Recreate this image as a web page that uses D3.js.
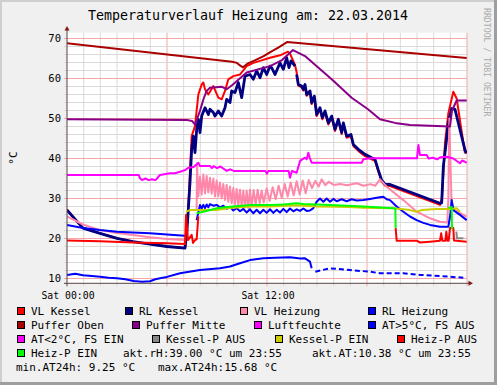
<!DOCTYPE html>
<html>
<head>
<meta charset="utf-8">
<script src="https://cdn.jsdelivr.net/npm/d3@7"></script>
<style>
  html, body { margin: 0; padding: 0; background: #fff; }
  svg { display: block; }
  text { font-family: "DejaVu Sans Mono", monospace; }
</style>
</head>
<body>
<div id="chart"></div>
<script>
// rrdtool-style day graph, values as [hour, °C]; null = gap

const vlKessel = [[0,27.3],[0.96,22.6],[1.98,21.3],[3.0,20.05],[3.96,19.2],[4.98,18.6],[6.0,18.0],[7.08,17.6],
  [7.14,19.5],[7.3,30],[7.48,45.6],[7.68,48.1],[7.88,56],[8.08,58.5],[8.18,59],[8.28,57.3],[8.48,56],[8.78,58.1],
  [9.08,55.2],[9.28,54.8],[9.48,56.9],[9.68,59.8],[9.98,60.6],[10.38,61.0],[10.78,63.1],[11.18,63.9],[11.58,64.4],
  [12.18,65.2],[12.78,65.8],[13.26,66.7],[13.38,66.2],[13.68,63.4],[13.78,61.5],[13.88,58.2],[14.08,57.8],[14.18,57.0],
  [14.28,58.0],[14.38,55.7],[14.58,56.5],[14.68,53.6],[14.84,55.2],[14.98,50.6],[15.18,52.3],[15.32,49.8],[15.48,51.5],
  [15.68,48.5],[15.88,50.2],[16.08,46.9],[16.28,49.4],[16.48,46.1],[16.58,48.5],[16.78,45.2],[17.04,45.6],[17.18,43.1],
  [17.48,41.9],[17.88,40.6],[18.28,39.8],[18.48,39.4],[18.68,36.7],[18.88,34.2],[19.08,33.2],[19.38,33.1],[22.38,28.4],
  [22.5,30],[22.68,44],[22.88,51.3],[23.18,56.7],[23.38,55],[23.88,41.3]];

const rlKessel = [[0,27.1],[0.96,22.6],[1.98,21.3],[3.0,20.05],[3.96,19.2],[4.98,18.6],[6.0,18.0],[7.08,17.6],
  [7.2,22],[7.38,34],[7.48,42.3],[7.58,45.6],[7.68,41.5],[7.78,47.3],[7.88,49.8],[7.98,46.5],[8.08,50.6],[8.28,52.7],
  [8.48,51.0],[8.58,52.3],[8.78,51.5],[8.88,50.6],[9.08,51.9],[9.28,50.6],[9.48,52.7],[9.58,54.8],[9.78,54.0],[9.88,56.9],
  [10.08,56.5],[10.28,59.0],[10.48,55.2],[10.68,60.6],[10.98,61.0],[11.18,59.8],[11.38,61.9],[11.58,60.2],[11.78,62.7],
  [11.98,61.0],[12.18,63.1],[12.28,62.7],[12.48,61.0],[12.78,63.9],[12.98,62.3],[13.18,65.2],[13.32,62.7],[13.44,64.4],
  [13.68,63.1],[13.73,null],[13.78,61.0],[13.88,58.5],[14.08,58.1],[14.18,57.3],[14.28,58.5],[14.38,56.0],[14.58,56.9],
  [14.68,54.0],[14.84,55.6],[14.98,51.0],[15.18,52.7],[15.32,50.2],[15.48,51.9],[15.68,48.9],[15.88,50.6],[16.08,47.3],
  [16.28,49.8],[16.48,46.5],[16.58,48.9],[16.78,45.6],[17.04,46.0],[17.18,43.5],[17.48,42.3],[17.88,41.05],[18.28,40.2],
  [18.48,39.8],[18.68,37.1],[18.88,34.6],[19.08,33.6],[19.38,33.5],[22.38,28.8],[22.48,28.9],[22.58,38],[22.78,45],
  [22.88,48.8],[23.08,52.5],[23.28,52.3],[23.88,42.1],[23.98,41.3]];

const vlHeizung = [[0,25.5],[0.96,23.5],[1.98,22.1],[3.0,21.4],[3.96,20.9],[4.98,20.3],[6.0,19.9],[7.08,19.6],[7.1,null],
  [7.78,27],[7.8,38.8],[7.88,30.5],[7.98,35.5],[8.08,31],[8.18,36],[8.28,31.3],[8.38,35.6],[8.48,31.5],[8.58,35.2],
  [8.68,31.2],[8.78,35],[8.88,30.5],[8.98,34.5],[9.08,30.5],[9.18,34],[9.28,30],[9.38,33.6],[9.48,29.6],[9.58,33.4],
  [9.68,29.2],[9.78,33],[9.88,28.8],[9.98,32.6],[10.08,28.5],[10.18,32.4],[10.28,28.2],[10.38,32.2],[10.48,28],
  [10.58,32],[10.68,27.8],[10.78,32],[10.88,27.6],[10.98,32.2],[11.08,28],[11.2,32.1],[11.32,28.4],[11.44,32.2],
  [11.56,28.8],[11.68,32],[11.8,29],[11.98,32.5],[12.16,29.4],[12.34,32.8],[12.52,29.8],[12.7,33.2],[12.88,30.2],
  [13.06,33.6],[13.24,30.5],[13.42,34],[13.6,30.8],[13.78,34.3],[13.96,31],[14.14,34.5],[14.32,31.3],[14.5,34.6],
  [14.7,32.6],[14.9,34.4],[15.1,33],[15.28,34.8],[15.5,33.3],[15.7,34.2],[16.0,33.4],[16.4,33.6],[16.8,33.3],
  [17.38,33.8],[17.8,33.2],[18.2,33.6],[18.5,33.2],[18.78,34.8],[19.18,32.95],[20.18,29.6],[20.98,26.7],[21.78,25.05],
  [22.38,24.2],[22.82,24.0],[22.88,30],[22.94,50],[23.0,40],[23.08,28],[23.3,27],[23.98,25.45]];

const rlHeizung = [[0,23.4],[0.96,22.6],[1.98,22.1],[3.0,21.7],[3.96,21.5],[4.98,21.3],[6.0,21.0],[7.08,20.7],[7.1,null],
  [7.78,24.6],[7.98,28.4],[8.08,27.5],[8.18,28.4],[8.28,27.6],[8.38,28.5],[8.48,27.8],[8.58,28.6],[8.78,28.2],[8.98,28.4],
  [9.18,27.8],[9.38,28.2],[9.58,27.4],[9.78,27.9],[9.98,27.0],[10.18,27.6],[10.38,26.8],[10.58,27.4],[10.78,26.5],
  [10.98,27.3],[11.18,26.3],[11.38,27.2],[11.58,26.3],[11.78,27.2],[11.98,26.4],[12.18,27.3],[12.38,26.4],[12.58,27.2],
  [12.78,26.5],[12.98,27.4],[13.18,26.6],[13.38,27.5],[13.58,26.8],[13.78,27.3],[13.98,26.9],[14.18,27.5],[14.38,26.9],
  [14.58,27.0],[14.78,27.6],[14.98,29.2],[15.18,30.0],[15.38,29.2],[15.58,30.0],[15.78,29.2],[15.98,29.9],[16.18,29.3],
  [16.48,29.8],[16.78,29.3],[17.08,29.8],[17.38,29.5],[17.78,29.6],[18.18,29.9],[18.58,30.2],[18.98,30.45],[19.18,29.8],
  [19.38,29.6],[19.78,28],[20.18,26.7],[20.58,25.5],[20.98,24.6],[21.38,23.9],[21.78,23.4],[22.38,22.95],[22.88,22.95],
  [23.0,26],[23.08,29.6],[23.2,27],[23.58,25.9],[23.98,24.6]];

const pufferOben = [[0,68.8],[9.9,64.2],[10.2,63.9],[10.4,63.2],[10.56,62.8],[10.86,63.8],[11.3,64.6],[11.8,65.6],
  [12.2,66.6],[12.7,67.8],[13.2,69.1],[23.98,65.1]];

const pufferMitte = [[0,49.8],[7.2,49.6],[7.5,49.4],[7.68,48.5],[7.98,51.9],[8.2,55],[8.38,56.9],[8.58,57.7],[9.28,57.96],
  [9.58,57.3],[9.9,58.3],[10.78,61.5],[12.18,63.1],[12.9,64.6],[13.56,67.1],[14.28,65.6],[15.88,59.8],[17.08,55.2],
  [18.06,52.3],[18.78,49.8],[19.68,48.9],[20.58,48.4],[22.98,48.0],[23.1,52],[23.38,54.5],[23.98,54.5]];

const luftfeuchte = [[0,35.9],[4.3,35.9],[4.38,35.05],[4.5,34.6],[4.7,35.0],[4.9,34.6],[5.1,34.8],[5.3,34.6],[5.4,35.0],
  [5.58,35.9],[6.18,36.3],[6.48,36.3],[6.78,36.7],[7.08,37.1],[7.28,37.7],[7.6,37.9],[7.88,38.95],[7.98,38.1],[8.58,38.1],
  [8.7,37.6],[8.8,38.1],[9.0,37.6],[9.2,38.0],[9.58,36.9],[9.78,37.3],[10.0,36.9],[11.9,36.9],[12.0,36.2],[12.08,36.9],
  [13.3,36.9],[13.38,35.2],[13.5,36.9],[13.78,36.45],[13.98,39.4],[14.28,40.2],[14.38,39.8],[14.48,41.45],[14.58,40],
  [14.68,38.95],[17.68,38.95],[17.78,39.8],[18.18,40.05],[21.0,40.05],[21.08,43.4],[21.18,40.9],[21.58,40.9],[21.7,40],
  [21.96,40.2],[22.2,39.8],[22.4,40.3],[22.78,40.45],[23.18,40.0],[23.58,38.8],[23.7,39.5],[23.88,39.2],[23.98,38.9]];

const atWarm = [[0,10.9],[0.5,11.2],[0.96,10.8],[1.5,10.6],[1.98,10.45],[2.5,10.2],[3.0,10.05],[3.5,9.8],[4.0,9.4],
  [4.5,9.2],[4.98,9.3],[5.3,9.8],[5.58,10.05],[6.0,10.4],[6.78,11.3],[7.98,12.1],[9.18,12.55],[9.78,13.0],[10.38,13.8],
  [10.98,14.6],[11.78,15.05],[12.5,15.2],[13.38,15.3],[14.0,15.0],[14.28,15.05],[14.58,14.2],[14.68,12.55]];
// sparse samples after 14:40, drawn dashed
const atWarmSparse = [[14.9,11.7],[15.78,12.55],[16.98,12.1],[18.18,11.7],[18.78,11.3],[20.18,11.3],[21.18,10.9],
  [22.38,10.6],[23.78,10.2]];

const kesselPEin = [[7.14,26.7],[7.38,27.1],[7.78,27.1],[8.98,27.1],[9.78,27.6],[10.98,28.0],[12.18,28.0],[13.78,28.3],
  [14.98,28.0],[16.98,27.9],[17.78,27.7],[19.58,27.55],[20.18,27.3],[20.58,27.1],[20.98,26.7],[21.28,27.1],[22.18,27.4],
  [22.98,27.4],[23.38,27.55],[23.58,26.7]];

const kesselPAus = [[23.36,21.7],[23.4,20.05],[23.78,20.05]];

const heizPAus = [[0,19.5],[1.98,19.3],[3.96,19.0],[6.0,18.8],[7.08,18.6],[7.14,25.9],[7.26,19.6],[7.48,20.9],[7.56,18.9],
  [7.68,19.6],[7.78,19.8],[7.88,25.5],[7.9,null],[19.72,22.6],[19.78,19.45],[20.98,19.45],[21.18,19.0],[21.78,19.2],
  [22.38,19.45],[22.45,21.3],[22.52,19.45],[22.7,19.45],[22.76,21.7],[22.82,19.45],[22.9,19.45],[22.98,22.6],[23.18,22.6],
  [23.22,19.5],[23.98,19.2]];

const heizPEin = [[7.78,26.3],[8.18,26.7],[8.98,27.55],[9.78,27.95],[10.98,28.4],[12.18,28.4],[13.0,28.5],[13.78,28.8],
  [14.2,28.6],[15.78,28.4],[17.78,28.0],[19.58,27.55],[19.7,27.5],[19.72,22.6],[19.8,null],[22.88,27.6],[23.08,27.9],
  [23.1,22.3]];

const X_TICKS = [0, 12];
const X_TICK_LABELS = ["Sat 00:00", "Sat 12:00"];
const Y_TICKS = [10, 20, 30, 40, 50, 60, 70];

const LEGEND_ROWS = [
  [["VL Kessel", "#ff0000", 17], ["RL Kessel", "#000080", 125], ["VL Heizung", "#ff88aa", 240], ["RL Heizung", "#0000ff", 368]],
  [["Puffer Oben", "#aa0000", 17], ["Puffer Mitte", "#880088", 132], ["Luftfeuchte", "#ff00ff", 254], ["AT>5°C, FS AUS", "#0000ff", 368]],
  [["AT<2°C, FS EIN", "#ff00ff", 17], ["Kessel-P AUS", "#888888", 152], ["Kessel-P EIN", "#cccc00", 275], ["Heiz-P AUS", "#ff0000", 397]],
  [["Heiz-P EIN", "#00ff00", 17]]
];
const INFO_TEXTS = [
  ["akt.rH:39.00 °C um 23:55", 123, 3], ["akt.AT:10.38 °C um 23:55", 312, 3],
  ["min.AT24h: 9.25 °C", 16, 4], ["max.AT24h:15.68 °C", 158, 4]
];

const W = 497, H = 385;
const P = { l: 67, r: 467, t: 32.7, b: 283.3 };

const svg = d3.select("#chart").append("svg").attr("width", W).attr("height", H);

// background + rrdtool shade border
svg.append("rect").attr("width", W).attr("height", H).attr("fill", "#f0f0f0");
svg.append("path").attr("d", `M0,${H} V0 H${W}`).attr("fill", "none").attr("stroke", "#cfcfcf").attr("stroke-width", 4);
svg.append("path").attr("d", `M0,${H - 1.5} H${W - 1.5} V0`).attr("fill", "none").attr("stroke", "#9e9e9e").attr("stroke-width", 3);

const x = d3.scaleLinear().domain([0, 24]).range([P.l, P.r]);
const y = d3.scaleLinear().domain([8.8, 71.45]).range([P.b, P.t]);

svg.append("rect").attr("x", P.l).attr("y", P.t).attr("width", P.r - P.l).attr("height", P.b - P.t).attr("fill", "#fff");

// grid: minor every hour / 2 °C, major every 6 h / 10 °C
const grid = svg.append("g");
d3.range(1, 25).forEach(h => {
  const major = h % 6 === 0;
  grid.append("line").attr("x1", x(h)).attr("x2", x(h)).attr("y1", P.t).attr("y2", P.b + 3)
    .attr("stroke", major ? "#f2a8a8" : "#dadada").attr("stroke-width", 1);
});
d3.range(10, 72, 2).forEach(v => {
  const major = v % 10 === 0;
  grid.append("line").attr("x1", P.l - 3).attr("x2", P.r).attr("y1", y(v)).attr("y2", y(v))
    .attr("stroke", major ? "#f2a8a8" : "#dadada").attr("stroke-width", 1);
});

svg.append("defs").append("clipPath").attr("id", "plotclip")
  .append("rect").attr("x", P.l).attr("y", P.t).attr("width", P.r - P.l).attr("height", P.b - P.t);

const lineGen = d3.line().defined(d => d[1] != null).x(d => x(d[0])).y(d => y(d[1]));
const plot = svg.append("g").attr("clip-path", "url(#plotclip)");

function drawLine(data, color, width, dash) {
  plot.append("path").datum(data).attr("d", lineGen).attr("fill", "none")
    .attr("stroke", color).attr("stroke-width", width).attr("stroke-linejoin", "round")
    .attr("stroke-dasharray", dash || null);
}

drawLine(vlKessel, "#ff0000", 2);
drawLine(rlKessel, "#000080", 2.8);
drawLine(vlHeizung, "#ff88aa", 2);
drawLine(rlHeizung, "#0000ff", 2);
drawLine(pufferOben, "#aa0000", 2);
drawLine(pufferMitte, "#880088", 2);
drawLine(luftfeuchte, "#ff00ff", 2);
drawLine(atWarm, "#0000ff", 2);
drawLine(atWarmSparse, "#0000ff", 2, "5,3");
drawLine(kesselPAus, "#888888", 2);
drawLine(kesselPEin, "#cccc00", 2);
drawLine(heizPAus, "#ff0000", 2);
drawLine(heizPEin, "#00ff00", 2);

// axes with arrows
svg.append("line").attr("x1", P.l).attr("x2", P.l).attr("y1", P.b + 3).attr("y2", 28).attr("stroke", "#5a4444").attr("stroke-width", 1);
svg.append("line").attr("x1", P.l - 3).attr("x2", 471).attr("y1", P.b).attr("y2", P.b).attr("stroke", "#5a4444").attr("stroke-width", 1);
svg.append("path").attr("d", `M${P.l - 2.5},30.5 L${P.l},26 L${P.l + 2.5},30.5 Z`).attr("fill", "#801818");
svg.append("path").attr("d", `M468.5,${P.b - 2.5} L473,${P.b} L468.5,${P.b + 2.5} Z`).attr("fill", "#801818");

// tick labels
svg.selectAll("text.ytick").data(Y_TICKS).enter().append("text").attr("class", "ytick")
  .attr("x", 61).attr("y", d => y(d) + 3.5).attr("text-anchor", "end")
  .style("font-size", "10.5px").style("fill", "#000").text(d => d);
svg.selectAll("text.xtick").data(X_TICKS).enter().append("text").attr("class", "xtick")
  .attr("x", d => x(d) + 1).attr("y", 298.5).attr("text-anchor", "middle")
  .style("font-size", "9.8px").style("fill", "#000").text((d, i) => X_TICK_LABELS[i]);

// title, unit, watermark
svg.append("text").attr("x", 248).attr("y", 20).attr("text-anchor", "middle")
  .style("font-size", "13.3px").style("fill", "#000").text("Temperaturverlauf Heizung am: 22.03.2014");
svg.append("text").attr("transform", "translate(17,158) rotate(-90)").attr("text-anchor", "middle")
  .style("font-size", "11px").style("fill", "#000").text("°C");
svg.append("text").attr("transform", "translate(484,8) rotate(90)").attr("text-anchor", "start")
  .style("font-size", "8.2px").style("fill", "#ababab").text("RRDTOOL / TOBI OETIKER");

// legend
const rowBase = [315, 329, 343, 357, 371];
LEGEND_ROWS.forEach((row, r) => {
  row.forEach(([label, color, bx]) => {
    svg.append("rect").attr("x", bx + 0.5).attr("y", rowBase[r] - 7.5).attr("width", 7).attr("height", 7)
      .attr("fill", color).attr("stroke", "#000").attr("stroke-width", 1);
    svg.append("text").attr("x", bx + 14).attr("y", rowBase[r])
      .style("font-size", "11px").style("fill", "#000").text(label);
  });
});
INFO_TEXTS.forEach(([t, tx, r]) => {
  svg.append("text").attr("x", tx).attr("y", rowBase[r])
    .style("font-size", "11px").style("fill", "#000").text(t);
});
</script>
</body>
</html>
